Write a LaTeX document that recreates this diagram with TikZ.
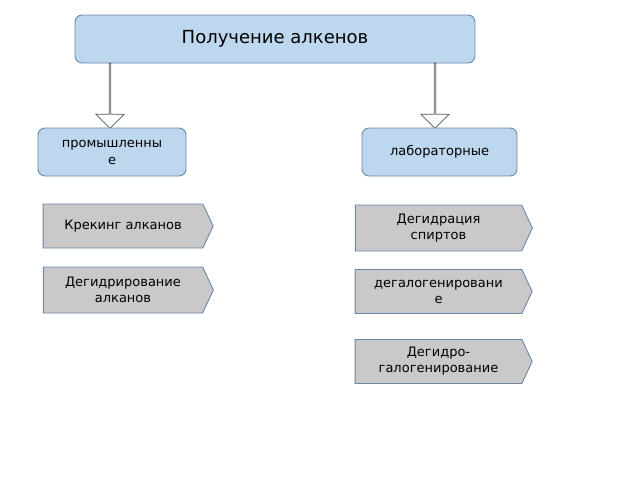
\documentclass[tikz,border=0pt]{standalone}
\usepackage{fontspec}
\setmainfont{DejaVu Sans}
\usetikzlibrary{shapes.symbols,shapes.arrows}
\definecolor{bfill}{HTML}{BDD7EE}
\definecolor{bdraw}{HTML}{6D87A8}
\definecolor{gfill}{HTML}{C9C9C9}
\begin{document}
\begin{tikzpicture}[x=1pt,y=-1pt,
 box/.style={draw=bdraw,fill=bfill,rounded corners=7pt,line width=0.9pt,inner sep=0pt,align=center},
 sig/.style={shape=signal,signal to=east,signal pointer angle=130,draw=bdraw,fill=gfill,line width=0.9pt,
   minimum width=170pt,minimum height=44pt,inner sep=0pt,align=center,font=\fontsize{13}{16}\selectfont},
 harr/.style={shape=single arrow,draw=gray!70!black,fill=white,line width=0.7pt,rotate=-90,
   minimum width=28pt,minimum height=65pt,single arrow head extend=7pt,single arrow head indent=0pt,inner sep=0pt}]
\useasboundingbox (0,0) rectangle (640,480);
\node[box,minimum width=400pt,minimum height=48pt,font=\fontsize{18}{22}\selectfont] (top) at (275,39) {Получение алкенов};
\node[harr] (a1) at (110,95.5) {};
\node[harr] (a2) at (435,95.5) {};
\node[box,minimum width=148pt,minimum height=48pt,text width=140pt,font=\fontsize{13}{17}\selectfont] (prom) at (112,152) {промышленны\\е};
\node[box,minimum width=155pt,minimum height=48pt,font=\fontsize{13}{16}\selectfont] (lab) at (439.5,152) {лабораторные};
\node[sig] (k) at (123,226) {Крекинг алканов};
\node[sig,minimum height=46pt] (d1) at (123,290) {Дегидрирование\\алканов};
\node[sig,minimum width=177pt,minimum height=46pt] (r1) at (438.5,228) {Дегидрация\\спиртов};
\node[sig,minimum width=177pt] (r2) at (438.5,291.5) {дегалогенировани\\е};
\node[sig,minimum width=177pt] (r3) at (438.5,361.5) {Дегидро-\\галогенирование};
\end{tikzpicture}
\end{document}
